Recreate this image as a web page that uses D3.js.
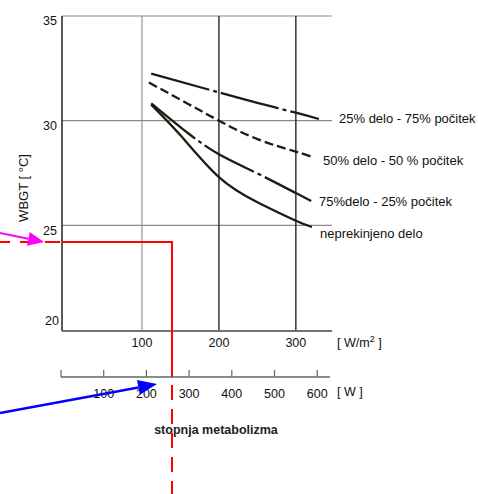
<!DOCTYPE html>
<html>
<head>
<meta charset="utf-8">
<script src="https://cdn.jsdelivr.net/npm/d3@7"></script>
<style>
  html, body { margin: 0; padding: 0; background: #fff; }
  svg { display: block; font-family: "Liberation Sans", Arial, sans-serif; }
</style>
</head>
<body>
<svg id="chart" width="478" height="494"></svg>
<script>
// Permissible WBGT vs. metabolic rate for different work/rest regimes
const seriesNames = ["25% delo - 75% počitek", "50% delo - 50 % počitek", "75%delo - 25% počitek", "neprekinjeno delo"];

// metabolic rate [W/m²] and WBGT [°C] for each regime
const rate25 = [112, 200, 250, 300, 330];
const wbgt25 = [32.25, 31.35, 30.85, 30.38, 30.08];

const rate50 = [109, 160, 200, 250, 300, 321];
const wbgt50 = [31.82, 30.8, 30.0, 29.12, 28.52, 28.27];

const rate75 = [112, 160, 200, 250, 300, 320];
const wbgt75 = [30.83, 29.4, 28.4, 27.48, 26.54, 26.16];

const rate100 = [112, 150, 200, 250, 300, 321];
const wbgt100 = [30.77, 29.3, 27.3, 26.1, 25.22, 24.92];

// axis ticks
const yTicks = [20, 25, 30, 35];
const xTicksWm2 = [100, 200, 300];
const xTicksW = [0, 100, 200, 300, 400, 500, 600];

// worked example: metabolic rate and resulting WBGT limit
const exampleW = 260;
const exampleWbgt = 24.2;
const blueArrowW = 225;

(function draw() {
  const svg = d3.select("#chart");

  const pLeft = 62, pRight = 332, pTop = 16, pBottom = 330;
  const x = d3.scaleLinear().domain([-4, 347]).range([pLeft, pRight]);
  const y = d3.scaleLinear().domain([20, 35]).range([pBottom, pTop]);
  const wAxisY = 377;
  const xw = d3.scaleLinear().domain([0, 630]).range([61, 330]);

  const ink = "#1f1b12";
  const textCol = "#111";

  // horizontal grid (35, 30, 25)
  svg.append("g").selectAll("line").data(yTicks.filter(v => v > 20)).join("line")
    .attr("x1", pLeft).attr("x2", pRight)
    .attr("y1", d => y(d)).attr("y2", d => y(d))
    .attr("stroke", "#8a8a8a").attr("stroke-width", 1.2);

  // vertical grid
  svg.append("g").selectAll("line").data(xTicksWm2).join("line")
    .attr("x1", d => x(d)).attr("x2", d => x(d))
    .attr("y1", pTop).attr("y2", pBottom)
    .attr("stroke", d => d === 100 ? "#8a8a8a" : "#262626")
    .attr("stroke-width", d => d === 100 ? 1.1 : 1.4);

  // left and bottom axis lines
  svg.append("line").attr("x1", pLeft).attr("x2", pLeft).attr("y1", pTop).attr("y2", pBottom + 1)
    .attr("stroke", "#222").attr("stroke-width", 1.5);
  svg.append("line").attr("x1", pLeft).attr("x2", pRight).attr("y1", pBottom + 1).attr("y2", pBottom + 1)
    .attr("stroke", "#444").attr("stroke-width", 1.4);

  // y tick labels
  svg.append("g").selectAll("text").data(yTicks).join("text")
    .attr("x", d => d === 20 ? 59 : 57)
    .attr("y", d => d === 20 ? y(d) - 9 : y(d) + 5)
    .attr("dy", "0.35em")
    .attr("text-anchor", "end")
    .attr("font-size", "12.5px")
    .attr("fill", textCol)
    .text(d => d);

  // y title
  svg.append("text")
    .attr("transform", "translate(28,188) rotate(-90)")
    .attr("text-anchor", "middle")
    .attr("font-size", "13px")
    .attr("fill", textCol)
    .text("WBGT [ °C]");

  // W/m² tick labels
  svg.append("g").selectAll("text").data(xTicksWm2).join("text")
    .attr("x", d => x(d)).attr("y", 347)
    .attr("text-anchor", "middle")
    .attr("font-size", "12.5px")
    .attr("fill", textCol)
    .text(d => d);

  const unit1 = svg.append("text").attr("x", 337).attr("y", 347)
    .attr("font-size", "12.5px").attr("fill", textCol);
  unit1.append("tspan").text("[ W/m");
  unit1.append("tspan").attr("dy", -5).attr("font-size", "9px").text("2");
  unit1.append("tspan").attr("dy", 5).text(" ]");

  // W axis
  svg.append("line").attr("x1", xw(0)).attr("x2", xw(630)).attr("y1", wAxisY).attr("y2", wAxisY)
    .attr("stroke", "#666").attr("stroke-width", 1.3);
  svg.append("g").selectAll("line").data(xTicksW).join("line")
    .attr("x1", d => xw(d)).attr("x2", d => xw(d))
    .attr("y1", wAxisY).attr("y2", wAxisY - 7)
    .attr("stroke", "#666").attr("stroke-width", 1.2);
  svg.append("g").selectAll("text").data(xTicksW.filter(d => d > 0)).join("text")
    .attr("x", d => xw(d)).attr("y", 398)
    .attr("text-anchor", "middle")
    .attr("font-size", "12.5px")
    .attr("fill", textCol)
    .text(d => d);
  svg.append("text").attr("x", 337).attr("y", 396)
    .attr("font-size", "12.5px").attr("fill", textCol).text("[ W ]");

  svg.append("text").attr("x", 216).attr("y", 434)
    .attr("text-anchor", "middle")
    .attr("font-size", "12.5px").attr("font-weight", "bold")
    .attr("fill", "#222")
    .text("stopnja metabolizma");

  // curves
  const series = [
    { name: seriesNames[0], xs: rate25, ys: wbgt25, dash: "60,4,4,4", lx: 339, ly: 123 },
    { name: seriesNames[1], xs: rate50, ys: wbgt50, dash: "9,4", lx: 323, ly: 165 },
    { name: seriesNames[2], xs: rate75, ys: wbgt75, dash: "56,4,4,4", lx: 319, ly: 206 },
    { name: seriesNames[3], xs: rate100, ys: wbgt100, dash: null, lx: 320, ly: 238 }
  ];

  const line = d3.line().x(d => x(d[0])).y(d => y(d[1])).curve(d3.curveNatural);

  svg.append("g").selectAll("path").data(series).join("path")
    .attr("d", s => line(s.xs.map((v, i) => [v, s.ys[i]])))
    .attr("fill", "none")
    .attr("stroke", ink)
    .attr("stroke-width", 2.3)
    .attr("stroke-dasharray", s => s.dash);

  svg.append("g").selectAll("text").data(series).join("text")
    .attr("x", s => s.lx).attr("y", s => s.ly)
    .attr("font-size", "13px")
    .attr("fill", textCol)
    .text(s => s.name);

  // worked example in red
  const ex = xw(exampleW);
  const ey = y(exampleWbgt);
  svg.append("line").attr("x1", 60).attr("x2", 0).attr("y1", ey).attr("y2", ey)
    .attr("stroke", "#ff0000").attr("stroke-width", 2).attr("stroke-dasharray", "15,10");
  svg.append("path")
    .attr("d", `M${pLeft},${ey}H${ex}V${wAxisY}`)
    .attr("fill", "none").attr("stroke", "#ff0000").attr("stroke-width", 2);
  svg.append("line").attr("x1", ex).attr("x2", ex).attr("y1", wAxisY).attr("y2", 494)
    .attr("stroke", "#ff0000").attr("stroke-width", 2)
    .attr("stroke-dasharray", "15,9").attr("stroke-dashoffset", 16);

  // arrows
  function arrow(x0, y0, x1, y1, color, w, len, half) {
    const a = Math.atan2(y1 - y0, x1 - x0);
    const bx = x1 - len * Math.cos(a), by = y1 - len * Math.sin(a);
    svg.append("line").attr("x1", x0).attr("y1", y0).attr("x2", bx).attr("y2", by)
      .attr("stroke", color).attr("stroke-width", w);
    const px = -Math.sin(a) * half, py = Math.cos(a) * half;
    svg.append("path")
      .attr("d", `M${x1},${y1}L${bx + px},${by + py}L${bx - px},${by - py}Z`)
      .attr("fill", color);
  }
  arrow(0, 233, pLeft - 18, ey, "#ff00ff", 2, 16, 7);
  arrow(0, 413, xw(blueArrowW), wAxisY + 7, "#0000ff", 2.5, 19, 7.5);
})();
</script>
</body>
</html>
